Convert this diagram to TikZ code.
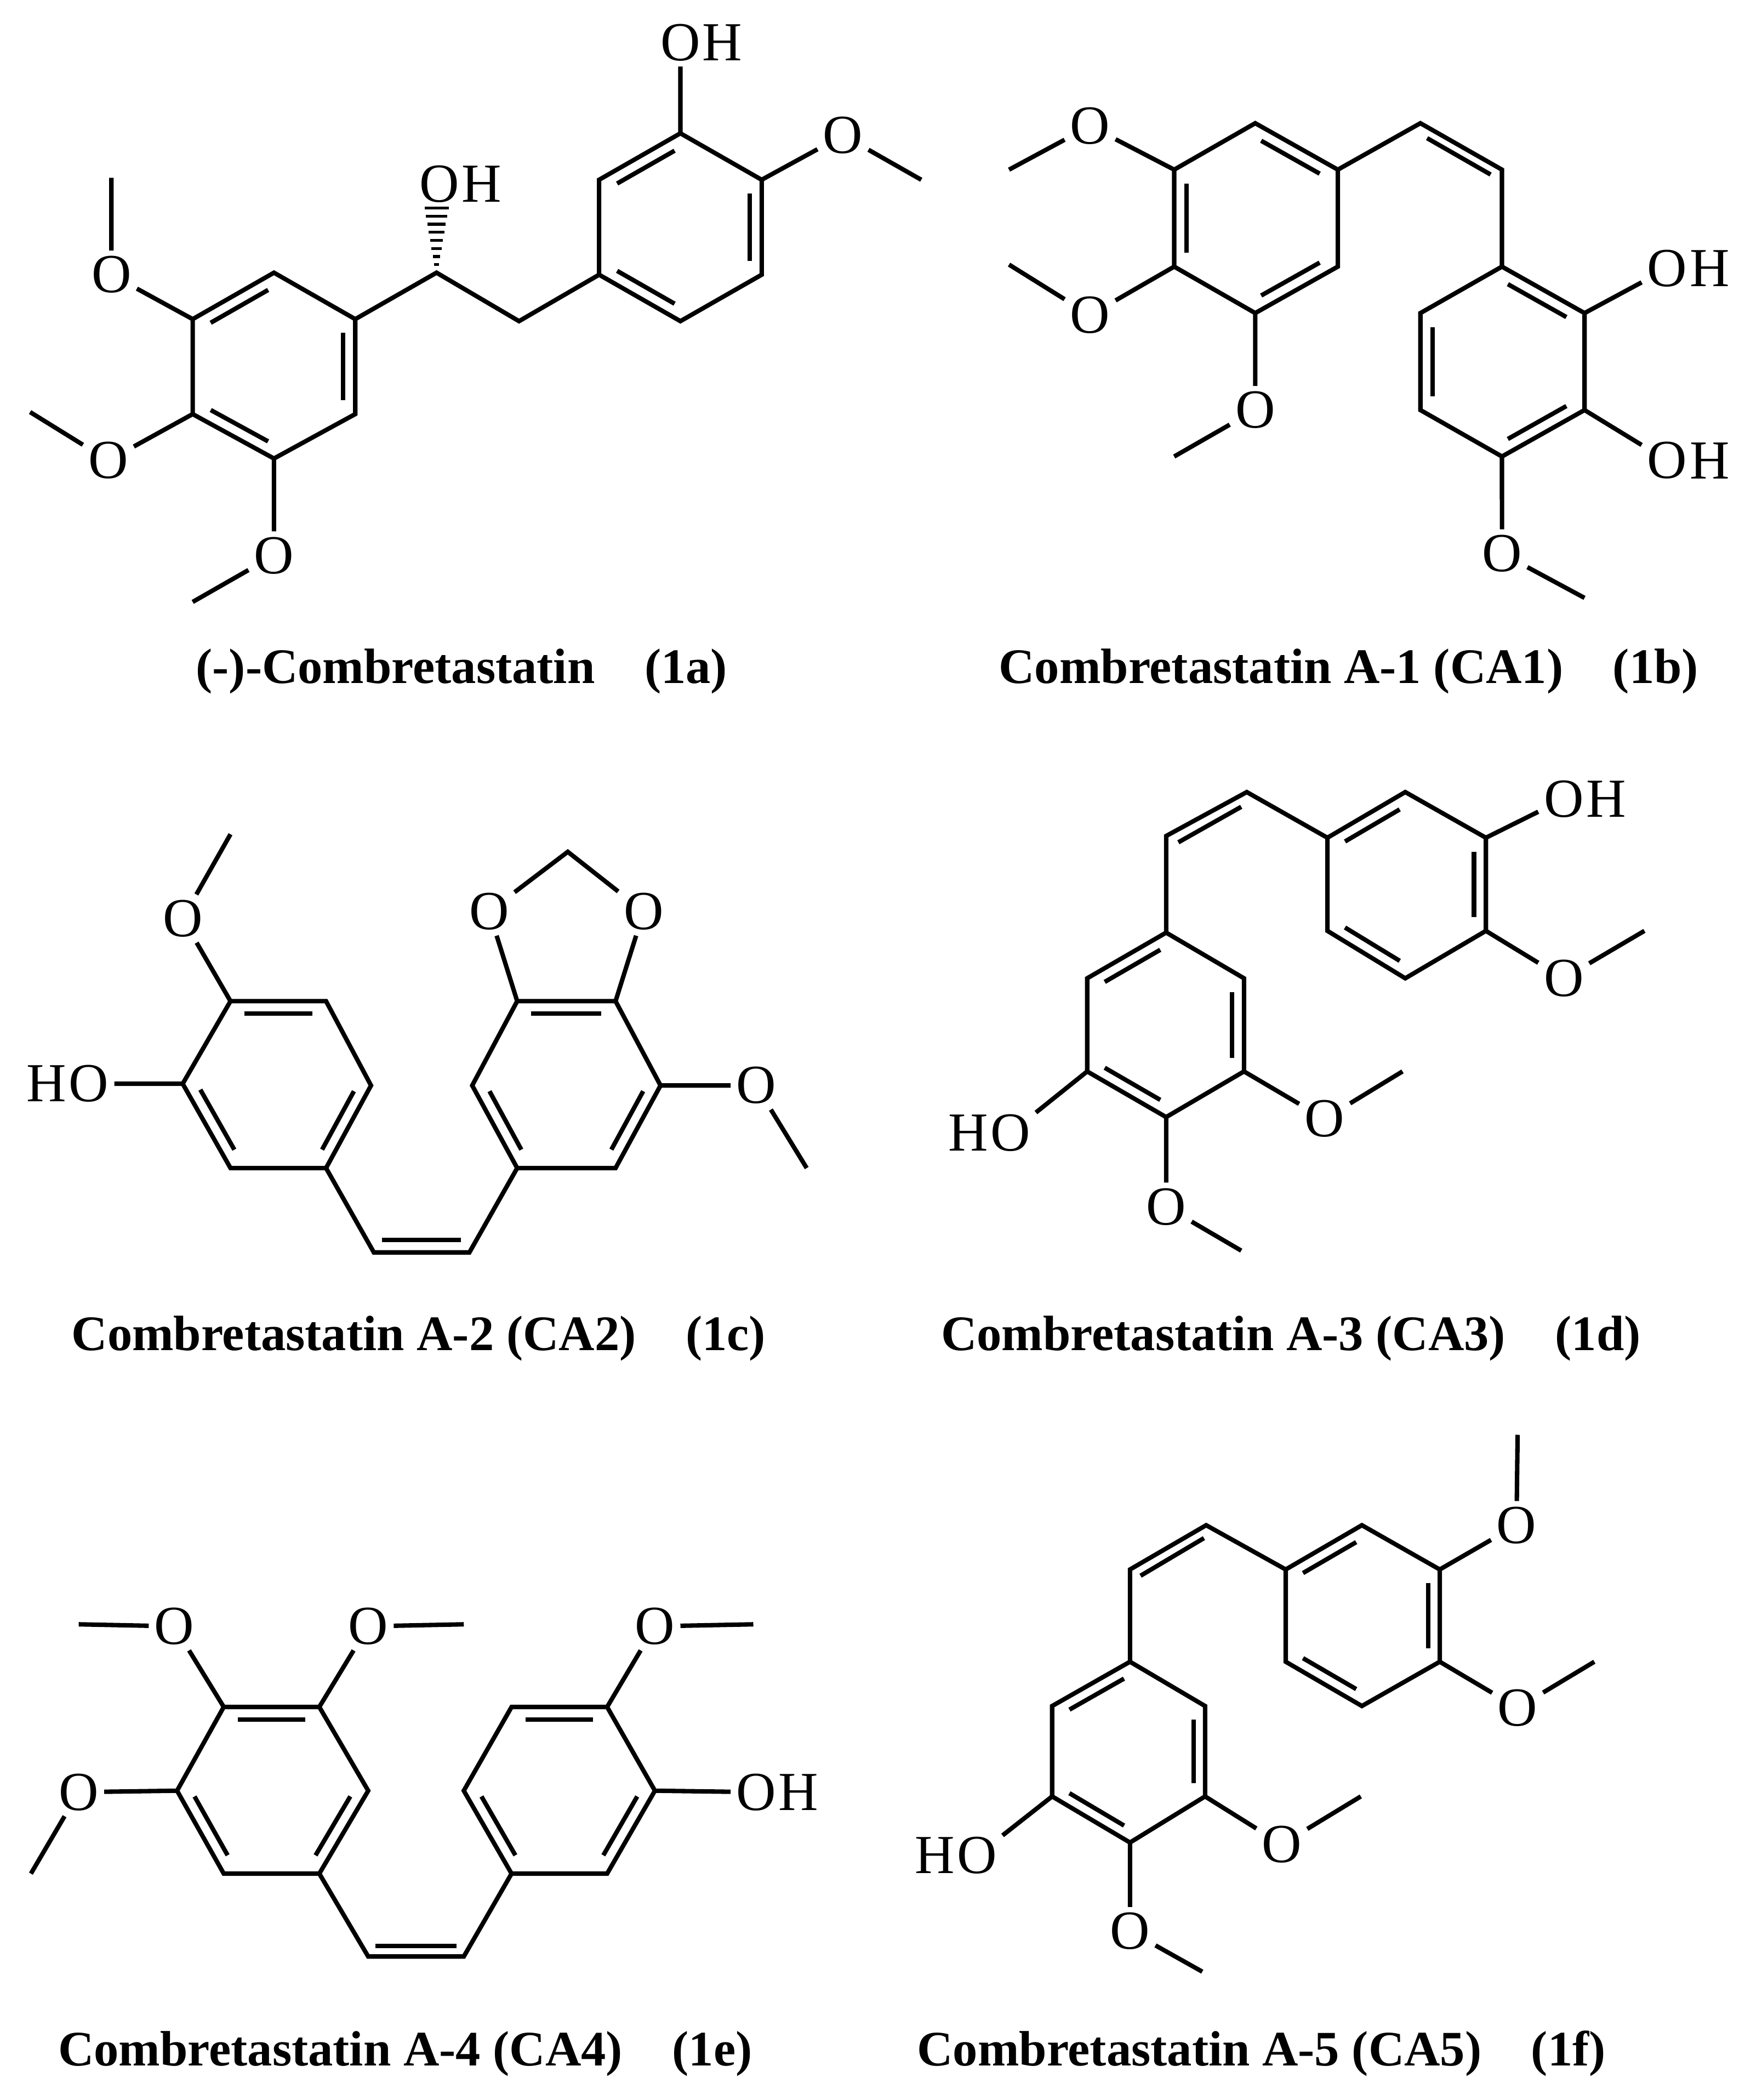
\documentclass[tikz,border=0pt]{standalone}
\usepackage{fontspec}
\setmainfont{Liberation Serif}
\usetikzlibrary{calc}
\newcommand\labf{\fontsize{41}{41}\selectfont}
\newcommand\capf{\fontsize{37}{37}\selectfont\bfseries}
\newcommand\db[3]{\draw[bond,shorten <=5pt,shorten >=5pt] ($(#1)!0.15!(#3)$)--($(#2)!0.15!(#3)$);}
\newcommand\Hright[2]{\node[anchor=west,inner sep=0pt,font=\labf] (#2) at ([xshift=-6pt]#1.east) {H};}
\newcommand\Hleft[2]{\node[anchor=east,inner sep=0pt,font=\labf] (#2) at ([xshift=6pt]#1.west) {H};}
\tikzset{bond/.style={line width=3.3pt},atom/.style={inner sep=4pt,font=\labf},captxt/.style={font=\capf,inner sep=0pt}}
\begin{document}
\begin{tikzpicture}[x=1pt,y=-1pt]
\useasboundingbox[fill=white] (0,0) rectangle (1300,1564.6);
% ---------- 1a ----------
\begin{scope}[shift={(0,0)},xscale=0.4487,yscale=0.301]
\coordinate (aA1) at (455,675);\coordinate (aA2) at (590,790);\coordinate (aA3) at (590,1025);
\coordinate (aA4) at (455,1135);\coordinate (aA5) at (320,1025);\coordinate (aA6) at (320,790);\coordinate (aAc) at (455,905);
\coordinate (aB1) at (995,680);\coordinate (aB2) at (995,445);\coordinate (aB3) at (1130,330);
\coordinate (aB4) at (1265,445);\coordinate (aB5) at (1265,680);\coordinate (aB6) at (1130,795);\coordinate (aBc) at (1130,562);
\coordinate (aC1) at (725,675);\coordinate (aC2) at (862,795);
\node[atom] (aO1) at (185,680) {O};\coordinate (aM1) at (185,440);
\node[atom] (aO2) at (180,1140) {O};\coordinate (aM2) at (50,1020);
\node[atom] (aO3) at (455,1375) {O};\coordinate (aM3) at (320,1490);
\node[atom] (aO4) at (1130,105) {O};\Hright{aO4}{aH4}
\node[atom] (aO5) at (1400,335) {O};\coordinate (aM5) at (1530,445);
\node[atom] (aO6) at (730,455) {O};\Hright{aO6}{aH6}
\draw[bond] (aA1)--(aA2)--(aA3)--(aA4)--(aA5)--(aA6)--cycle;
\db{aA6}{aA1}{aAc}\db{aA2}{aA3}{aAc}\db{aA5}{aA4}{aAc}
\draw[bond] (aB1)--(aB2)--(aB3)--(aB4)--(aB5)--(aB6)--cycle;
\db{aB2}{aB3}{aBc}\db{aB4}{aB5}{aBc}\db{aB6}{aB1}{aBc}
\draw[bond] (aA6)--(aO1)--(aM1);
\draw[bond] (aA5)--(aO2)--(aM2);
\draw[bond] (aA4)--(aO3)--(aM3);
\draw[bond] (aA2)--(aC1)--(aC2)--(aB1);
\draw[bond] (aB3)--(aO4);
\draw[bond] (aB4)--(aO5)--(aM5);
\foreach \yy in {655,635,...,515}{\pgfmathsetmacro\ww{4+(655-\yy)/140*16}
  \draw[line width=2.2pt] (725-\ww,\yy)--(725+\ww,\yy);}
\end{scope}
\node[captxt] (capa) at (344,500) {(-)-Combretastatin\hspace{1em}(1a)};
% ---------- 1b ----------
\begin{scope}[shift={(700,0)},xscale=0.3846,yscale=0.301]
\coordinate (bA1) at (612,305);\coordinate (bA2) at (772,420);\coordinate (bA3) at (772,660);
\coordinate (bA4) at (612,775);\coordinate (bA5) at (455,660);\coordinate (bA6) at (455,420);\coordinate (bAc) at (613,540);
\coordinate (bB1) at (1090,660);\coordinate (bB2) at (1250,775);\coordinate (bB3) at (1250,1015);
\coordinate (bB4) at (1090,1130);\coordinate (bB5) at (932,1015);\coordinate (bB6) at (932,775);\coordinate (bBc) at (1091,895);
\coordinate (bE1) at (932,305);\coordinate (bE2) at (1090,420);
\node[atom] (bO1) at (292,312) {O};\coordinate (bM1) at (135,420);
\node[atom] (bO2) at (292,780) {O};\coordinate (bM2) at (135,655);
\node[atom] (bO3) at (612,1015) {O};\coordinate (bM3) at (455,1130);
\node[atom] (bO4) at (1410,665) {O};\Hright{bO4}{bH4}
\node[atom] (bO5) at (1410,1140) {O};\Hright{bO5}{bH5}
\node[atom] (bO6) at (1090,1370) {O};\coordinate (bM6) at (1250,1480);
\draw[bond] (bA1)--(bA2)--(bA3)--(bA4)--(bA5)--(bA6)--cycle;
\db{bA1}{bA2}{bAc}\db{bA6}{bA5}{bAc}\db{bA3}{bA4}{bAc}
\draw[bond] (bB1)--(bB2)--(bB3)--(bB4)--(bB5)--(bB6)--cycle;
\db{bB1}{bB2}{bBc}\db{bB6}{bB5}{bBc}\db{bB3}{bB4}{bBc}
\draw[bond] (bA2)--(bE1)--(bE2)--(bB1);
\draw[bond] (945,342)--(1068,432);
\draw[bond] (bA6)--(bO1)--(bM1);
\draw[bond] (bA5)--(bO2)--(bM2);
\draw[bond] (bA4)--(bO3)--(bM3);
\draw[bond] (bB2)--(bO4);
\draw[bond] (bB3)--(bO5);
\draw[bond] (bB4)--(bO6)--(bM6);
\end{scope}
\node[captxt] (capb) at (1005,500) {Combretastatin A-1 (CA1)\hspace{1em}(1b)};
% ---------- 1c ----------
\begin{scope}[shift={(0,571.8)},xscale=0.4189,yscale=0.2618]
\coordinate (cA1) at (410,665);\coordinate (cA2) at (580,665);\coordinate (cA3) at (660,905);
\coordinate (cA4) at (580,1140);\coordinate (cA5) at (410,1140);\coordinate (cA6) at (325,900);\coordinate (cAc) at (495,902);
\coordinate (cB1) at (920,665);\coordinate (cB2) at (1095,665);\coordinate (cB3) at (1175,905);
\coordinate (cB4) at (1095,1140);\coordinate (cB5) at (920,1140);\coordinate (cB6) at (840,905);\coordinate (cBc) at (1007,902);
\coordinate (cE1) at (665,1380);\coordinate (cE2) at (835,1380);\coordinate (cCH) at (1010,240);
\node[atom] (cO1) at (325,430) {O};\coordinate (cM1) at (410,190);
\node[atom] (cO2) at (158,900) {O};\Hleft{cO2}{cH2}
\node[atom] (cO3) at (870,410) {O};
\node[atom] (cO4) at (1145,410) {O};
\node[atom] (cO5) at (1345,905) {O};\coordinate (cM5) at (1435,1140);
\draw[bond] (cA1)--(cA2)--(cA3)--(cA4)--(cA5)--(cA6)--cycle;
\db{cA1}{cA2}{cAc}\db{cA3}{cA4}{cAc}\db{cA6}{cA5}{cAc}
\draw[bond] (cB1)--(cB2)--(cB3)--(cB4)--(cB5)--(cB6)--cycle;
\db{cB1}{cB2}{cBc}\db{cB6}{cB5}{cBc}\db{cB3}{cB4}{cBc}
\draw[bond] (cA4)--(cE1)--(cE2)--(cB5);
\draw[bond] (680,1345)--(820,1345);
\draw[bond] (cA1)--(cO1)--(cM1);
\draw[bond] (cA6)--(cO2);
\draw[bond] (cB1)--(cO3)--(cCH)--(cO4)--(cB2);
\draw[bond] (cB3)--(cO5)--(cM5);
\end{scope}
\node[captxt] (capc) at (312,997) {Combretastatin A-2 (CA2)\hspace{1em}(1c)};
% ---------- 1d ----------
\begin{scope}[shift={(653.5,571.8)},xscale=0.4144,yscale=0.2618]
\coordinate (dA1) at (520,470);\coordinate (dA2) at (660,600);\coordinate (dA3) at (660,865);
\coordinate (dA4) at (520,995);\coordinate (dA5) at (378,865);\coordinate (dA6) at (378,600);\coordinate (dAc) at (519,732);
\coordinate (dB1) at (810,200);\coordinate (dB2) at (950,70);\coordinate (dB3) at (1095,200);
\coordinate (dB4) at (1095,465);\coordinate (dB5) at (950,600);\coordinate (dB6) at (810,465);\coordinate (dBc) at (952,335);
\coordinate (dE1) at (520,195);\coordinate (dE2) at (665,70);
\node[atom] (dO1) at (1235,90) {O};\Hright{dO1}{dH1}
\node[atom] (dO2) at (1235,600) {O};\coordinate (dM2) at (1380,465);
\node[atom] (dO3) at (240,1040) {O};\Hleft{dO3}{dH3}
\node[atom] (dO4) at (520,1250) {O};\coordinate (dM4) at (655,1375);
\node[atom] (dO5) at (805,1000) {O};\coordinate (dM5) at (945,865);
\draw[bond] (dA1)--(dA2)--(dA3)--(dA4)--(dA5)--(dA6)--cycle;
\db{dA1}{dA6}{dAc}\db{dA2}{dA3}{dAc}\db{dA5}{dA4}{dAc}
\draw[bond] (dB1)--(dB2)--(dB3)--(dB4)--(dB5)--(dB6)--cycle;
\db{dB1}{dB2}{dBc}\db{dB3}{dB4}{dBc}\db{dB5}{dB6}{dBc}
\draw[bond] (dA1)--(dE1)--(dE2)--(dB1);
\draw[bond] (542,213)--(655,112);
\draw[bond] (dB3)--(dO1);
\draw[bond] (dB4)--(dO2)--(dM2);
\draw[bond] (dA5)--(dO3);
\draw[bond] (dA4)--(dO4)--(dM4);
\draw[bond] (dA3)--(dO5)--(dM5);
\end{scope}
\node[captxt] (capd) at (962,997) {Combretastatin A-3 (CA3)\hspace{1em}(1d)};
% ---------- 1e ----------
\begin{scope}[shift={(0,1143.6)},xscale=0.4189,yscale=0.2094]
\coordinate (eA1) at (398,612);\coordinate (eA2) at (568,612);\coordinate (eA3) at (655,910);
\coordinate (eA4) at (568,1205);\coordinate (eA5) at (398,1205);\coordinate (eA6) at (315,910);\coordinate (eAc) at (483,908);
\coordinate (eB1) at (910,612);\coordinate (eB2) at (1080,612);\coordinate (eB3) at (1165,910);
\coordinate (eB4) at (1080,1205);\coordinate (eB5) at (910,1205);\coordinate (eB6) at (825,910);\coordinate (eBc) at (995,908);
\coordinate (eE1) at (655,1500);\coordinate (eE2) at (825,1500);
\node[atom] (eO1) at (310,325) {O};\coordinate (eM1) at (140,318);
\node[atom] (eO2) at (655,325) {O};\coordinate (eM2) at (825,318);
\node[atom] (eO3) at (140,915) {O};\coordinate (eM3) at (55,1205);
\node[atom] (eO4) at (1165,325) {O};\coordinate (eM4) at (1340,318);
\node[atom] (eO5) at (1345,915) {O};\Hright{eO5}{eH5}
\draw[bond] (eA1)--(eA2)--(eA3)--(eA4)--(eA5)--(eA6)--cycle;
\db{eA1}{eA2}{eAc}\db{eA3}{eA4}{eAc}\db{eA6}{eA5}{eAc}
\draw[bond] (eB1)--(eB2)--(eB3)--(eB4)--(eB5)--(eB6)--cycle;
\db{eB1}{eB2}{eBc}\db{eB6}{eB5}{eBc}\db{eB3}{eB4}{eBc}
\draw[bond] (eA4)--(eE1)--(eE2)--(eB5);
\draw[bond] (668,1462)--(812,1462);
\draw[bond] (eA1)--(eO1)--(eM1);
\draw[bond] (eA2)--(eO2)--(eM2);
\draw[bond] (eA6)--(eO3)--(eM3);
\draw[bond] (eB2)--(eO4)--(eM4);
\draw[bond] (eB3)--(eO5);
\end{scope}
\node[captxt] (cape) at (302,1530) {Combretastatin A-4 (CA4)\hspace{1em}(1e)};
% ---------- 1f ----------
\begin{scope}[shift={(653.5,1041.5)},xscale=0.4144,yscale=0.2749]
\coordinate (fA1) at (455,715);\coordinate (fA2) at (590,835);\coordinate (fA3) at (590,1080);
\coordinate (fA4) at (455,1205);\coordinate (fA5) at (315,1080);\coordinate (fA6) at (315,835);\coordinate (fAc) at (453,960);
\coordinate (fB1) at (735,465);\coordinate (fB2) at (872,345);\coordinate (fB3) at (1012,465);
\coordinate (fB4) at (1012,715);\coordinate (fB5) at (872,835);\coordinate (fB6) at (735,715);\coordinate (fBc) at (873,590);
\coordinate (fE1) at (455,465);\coordinate (fE2) at (592,345);
\node[atom] (fO1) at (1150,345) {O};\coordinate (fM1) at (1152,100);
\node[atom] (fO2) at (1152,840) {O};\coordinate (fM2) at (1290,715);
\node[atom] (fO3) at (180,1240) {O};\Hleft{fO3}{fH3}
\node[atom] (fO4) at (455,1445) {O};\coordinate (fM4) at (585,1555);
\node[atom] (fO5) at (728,1210) {O};\coordinate (fM5) at (870,1080);
\draw[bond] (fA1)--(fA2)--(fA3)--(fA4)--(fA5)--(fA6)--cycle;
\db{fA1}{fA6}{fAc}\db{fA2}{fA3}{fAc}\db{fA5}{fA4}{fAc}
\draw[bond] (fB1)--(fB2)--(fB3)--(fB4)--(fB5)--(fB6)--cycle;
\db{fB1}{fB2}{fBc}\db{fB3}{fB4}{fBc}\db{fB5}{fB6}{fBc}
\draw[bond] (fA1)--(fE1)--(fE2)--(fB1);
\draw[bond] (474,482)--(588,380);
\draw[bond] (fB3)--(fO1)--(fM1);
\draw[bond] (fB4)--(fO2)--(fM2);
\draw[bond] (fA5)--(fO3);
\draw[bond] (fA4)--(fO4)--(fM4);
\draw[bond] (fA3)--(fO5)--(fM5);
\end{scope}
\node[captxt] (capf) at (940,1530) {Combretastatin A-5 (CA5)\hspace{1em}(1f)};
\end{tikzpicture}
\end{document}
